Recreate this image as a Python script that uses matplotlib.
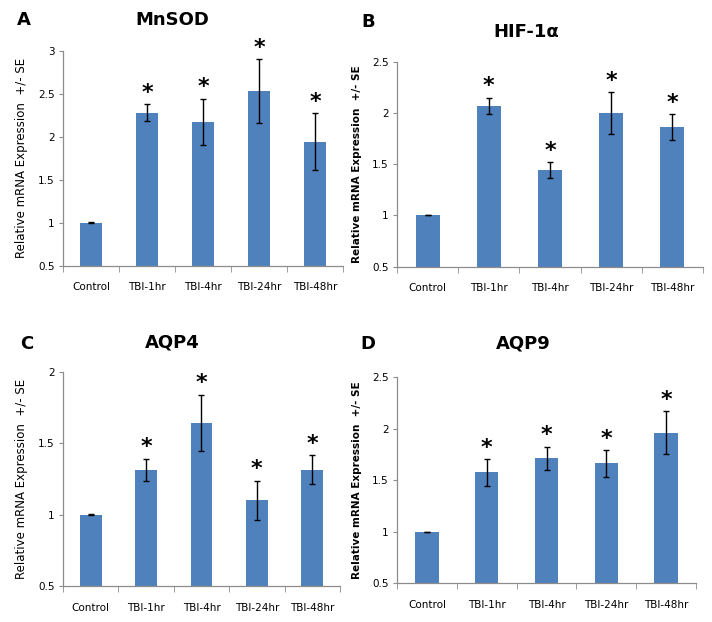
import numpy as np
import matplotlib.pyplot as plt
from matplotlib import font_manager

groups = ['Control', 'TBI-1hr', 'TBI-4hr', 'TBI-24hr', 'TBI-48hr']

mnsod = [1.0, 2.28, 2.17, 2.53, 1.94]
mnsod_err = [0.005, 0.10, 0.27, 0.37, 0.33]

hif = [1.0, 2.07, 1.44, 2.0, 1.86]
hif_err = [0.0, 0.077, 0.077, 0.205, 0.127]

aqp4 = [1.0, 1.315, 1.644, 1.10, 1.315]
aqp4_err = [0.002, 0.077, 0.196, 0.138, 0.10]

aqp9 = [1.0, 1.576, 1.71, 1.663, 1.96]
aqp9_err = [0.0, 0.13, 0.115, 0.128, 0.21]

stars = [False, True, True, True, True]

names = [f.name for f in font_manager.fontManager.ttflist]
narrow = 'Liberation Sans Narrow' if 'Liberation Sans Narrow' in names else 'DejaVu Sans'

bar_color = '#4f81bd'
axis_color = '#8c8c8c'


def panel(rect, vals, errs, ymax, title, letter, letter_xy, title_xy, font, ylab_bold):
    ax = fig.add_axes(rect)
    x = np.arange(len(groups))
    ax.bar(x, vals, width=0.39, bottom=0, color=bar_color, zorder=2)
    ax.errorbar(x, vals, yerr=errs, fmt='none', ecolor='black', elinewidth=1.0,
                capsize=2.5, capthick=1.0, zorder=3)
    for i in range(len(groups)):
        if stars[i]:
            ax.annotate('*', (x[i], vals[i] + errs[i]), xytext=(0, 1),
                        textcoords='offset points', ha='center', va='bottom',
                        fontsize=16, fontweight='bold', family='DejaVu Sans')
    ax.set_xlim(-0.5, 4.5)
    ax.set_ylim(0.5, ymax)
    yt = np.arange(0.5, ymax + 0.01, 0.5)
    ax.set_yticks(yt)
    ax.set_yticklabels(['%g' % v for v in yt], family=font, fontsize=7.5)
    ax.set_xticks(x)
    ax.set_xticklabels(groups, family=font, fontsize=7.5)
    ax.set_xticks(np.arange(-0.5, 5, 1), minor=True)
    ax.tick_params(axis='x', which='major', length=0, pad=12)
    ax.tick_params(axis='x', which='minor', length=4, color=axis_color)
    ax.tick_params(axis='y', length=3, color=axis_color, pad=3)
    for s in ['top', 'right']:
        ax.spines[s].set_visible(False)
    for s in ['left', 'bottom']:
        ax.spines[s].set_color(axis_color)
        ax.spines[s].set_linewidth(0.9)
    ax.set_ylabel('Relative mRNA Expression  +/- SE', family=font,
                  fontsize=7.5 if ylab_bold else 8.5,
                  fontweight='bold' if ylab_bold else 'normal', labelpad=7)
    fig.text(title_xy[0], title_xy[1], title, family=font, fontsize=13,
             fontweight='bold', ha='center', va='center')
    fig.text(letter_xy[0], letter_xy[1], letter, family='DejaVu Sans', fontsize=13,
             fontweight='bold', ha='center', va='center')
    return ax


fig = plt.figure(figsize=(7.12, 6.22), dpi=100)

panel([0.0885, 0.5728, 0.3933, 0.3457], mnsod, mnsod_err, 3.0, 'MnSOD', 'A',
      (0.033, 0.968), (0.242, 0.968), 'DejaVu Sans', False)
panel([0.5576, 0.5712, 0.4298, 0.3296], hif, hif_err, 2.5, 'HIF-1α', 'B',
      (0.517, 0.965), (0.739, 0.949), narrow, True)
panel([0.0885, 0.0574, 0.389, 0.345], aqp4, aqp4_err, 2.0, 'AQP4', 'C',
      (0.038, 0.447), (0.242, 0.449), 'DejaVu Sans', False)
panel([0.5576, 0.0622, 0.42, 0.3317], aqp9, aqp9_err, 2.5, 'AQP9', 'D',
      (0.517, 0.447), (0.735, 0.447), narrow, True)

fig.savefig('out.png', dpi=100)
